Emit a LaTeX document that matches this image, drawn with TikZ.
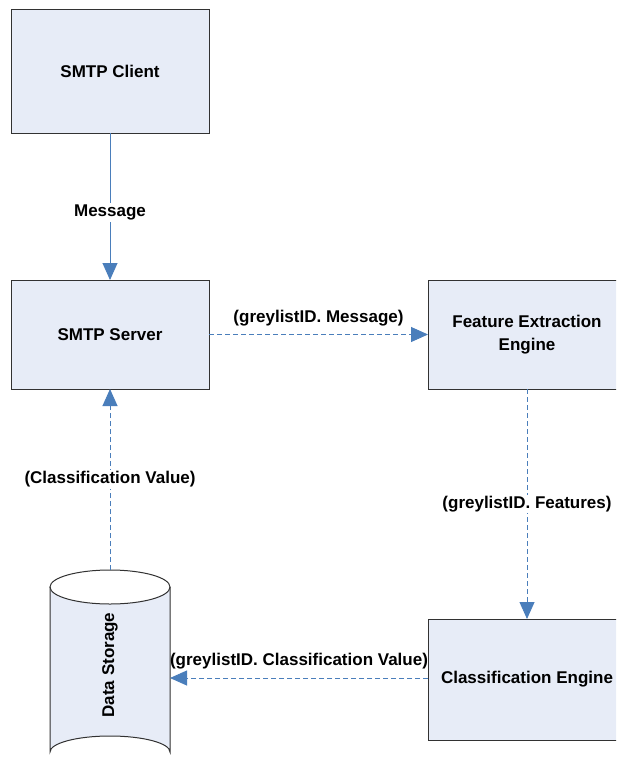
\documentclass[tikz,border=0pt]{standalone}
\usepackage{fontspec}
\setmainfont{Liberation Sans}
\usetikzlibrary{arrows.meta}
\definecolor{boxfill}{RGB}{231,236,247}
\definecolor{boxline}{RGB}{50,50,50}
\definecolor{conn}{RGB}{74,126,187}
\tikzset{
  x=1pt, y=-1pt,
  lbl/.style={font=\fontsize{17}{23}\selectfont\bfseries, inner sep=1.5pt, text=black},
  blk/.style={draw=boxline, fill=boxfill, line width=1pt, outer sep=0pt, inner sep=0pt, align=center,
              text=black, font=\fontsize{17}{23}\selectfont\bfseries},
  flow/.style={draw=conn, line width=0.9pt, -{Triangle[width=15pt,length=17pt,fill=conn]}},
  dflow/.style={flow, dash pattern=on 5pt off 3pt},
}
\begin{document}
\begin{tikzpicture}
\useasboundingbox (0,0) rectangle (616,765);
\clip (0,0) rectangle (616,765);
\fill[white] (0,0) rectangle (616,765);

% blocks
\node[blk, minimum width=198pt, minimum height=123pt] (client) at (110,71.5) {SMTP Client};
\node[blk, minimum width=198pt, minimum height=109pt] (srv) at (110,334.5) {SMTP Server};
\node[blk, minimum width=198pt, minimum height=109pt] (fe) at (527,334.5) {Feature Extraction\\Engine};
\node[blk, minimum width=198pt, minimum height=121pt] (ce) at (527,679.5) {Classification Engine};

% data storage cylinder
\fill[boxfill] (50,587) arc[start angle=180, end angle=0, x radius=60, y radius=17]
  -- (170,752) arc[start angle=0, end angle=-180, x radius=60, y radius=16] -- cycle;
\draw[boxline, line width=1pt] (110,587) ellipse[x radius=60, y radius=17];
\draw[boxline, line width=1pt] (50,587) -- (50,752)
  arc[start angle=180, end angle=360, x radius=60, y radius=16] -- (170,587);
\node[lbl, rotate=90] (ds) at (110,665) {Data Storage};
\coordinate (dstop) at (110,570);
\coordinate (dsright) at (170,678);

% connectors
\draw[flow] (client.south) -- node[lbl, fill=white, pos=0.54] {Message} (srv.north);
\draw[dflow] (srv.east) -- node[lbl, above=6pt] {(greylistID. Message)} (fe.west);
\draw[dflow] (fe.south) -- node[lbl, fill=white, pos=0.5] {(greylistID. Features)} (ce.north);
\draw[dflow] (ce.west |- dsright) -- node[lbl, above=7pt] {(greylistID. Classification Value)} (dsright);
\draw[dflow] (dstop) -- node[lbl, fill=white, pos=0.5] {(Classification Value)} (srv.south);
\end{tikzpicture}
\end{document}
